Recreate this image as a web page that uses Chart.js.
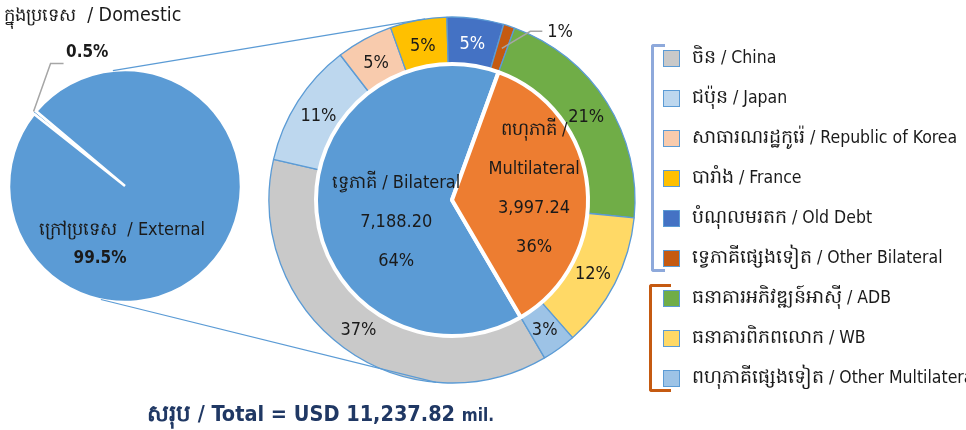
<!DOCTYPE html>
<html><head><meta charset="utf-8">
<script src="https://cdn.jsdelivr.net/npm/chart.js@4.4.1/dist/chart.umd.min.js"></script>
<style>
html,body{margin:0;padding:0;background:#fff;}
body{width:966px;height:430px;overflow:hidden;position:relative;font-family:"DejaVu Sans Condensed","DejaVu Sans","Noto Sans",sans-serif;color:#1a1a1a;}
canvas{position:absolute;display:block;}
#legend{position:absolute;left:0;top:0;}
.item{position:absolute;left:663px;height:20px;display:flex;align-items:center;white-space:nowrap;font-size:17.5px;}
.item .km{font-size:19px;}
.box{width:15px;height:15px;border:1.5px solid #5B9BD5;margin-right:12px;flex:none;}
.brk{position:absolute;border-style:solid;border-right:none;box-sizing:border-box;}
.txt{position:absolute;white-space:nowrap;}
#total{position:absolute;left:147px;top:399px;font-weight:bold;font-size:21.5px;color:#203864;white-space:nowrap;}
#total small{font-size:17px;}
</style>
</head><body>
<canvas id="sourceChart" width="250" height="248" style="left:0;top:62px"></canvas>
<canvas id="debtChart" width="380" height="380" style="left:262px;top:10px"></canvas>
<canvas id="overlay" width="966" height="430" style="left:0;top:0;pointer-events:none"></canvas>
<div id="legend"></div>
<div id="total"></div>
<script>
// ---------- DATA ----------
const sourceLabels = ['ក្នុងប្រទេស / Domestic', 'ក្រៅប្រទេស / External'];
const sourceShares = [0.5, 99.5];
const groupLabels = ['ទ្វេភាគី / Bilateral', 'ពហុភាគី / Multilateral'];
const groupAmounts = [7188.20, 3997.24];
const groupShares = [64, 36];
const lenderLabels = [
  'ចិន / China', 'ជប៉ុន / Japan', 'សាធារណរដ្ឋកូរ៉េ / Republic of Korea', 'បារាំង / France',
  'បំណុលមរតក / Old Debt', 'ទ្វេភាគីផ្សេងទៀត / Other Bilateral',
  'ធនាគារអភិវឌ្ឍន៍អាស៊ី / ADB', 'ធនាគារពិភពលោក / WB', 'ពហុភាគីផ្សេងទៀត / Other Multilateral'
];
const lenderShares = [37, 11, 5, 5, 5, 1, 21, 12, 3];
const lenderGroup = [0, 0, 0, 0, 0, 0, 1, 1, 1];
const totalLabel = 'សរុប / Total = USD';
const totalAmount = 11237.82;
const totalUnit = 'mil.';

// ---------- STYLE ----------
const FONT = '"DejaVu Sans Condensed","DejaVu Sans","Noto Sans",sans-serif';
const blue = '#5B9BD5';
const sourceColors = ['#5B9BD5', '#5B9BD5'];
const groupColors = ['#5B9BD5', '#ED7D31'];
const lenderColors = ['#C9C9C9', '#BDD7EE', '#F8CBAD', '#FFC000', '#4472C4', '#C55A11', '#70AD47', '#FFD966', '#9DC3E6'];
const lenderTextColors = ['#1a1a1a', '#1a1a1a', '#1a1a1a', '#1a1a1a', '#ffffff', '#1a1a1a', '#1a1a1a', '#1a1a1a', '#1a1a1a'];
const bracketColors = ['#8EA9DB', '#C55A11'];
const startAngle = 149.6;      // where the bilateral group begins (deg from top, clockwise)
const sourceRotation = 308.3;

const fmt = v => v.toLocaleString('en-US', {minimumFractionDigits: 2, maximumFractionDigits: 2});

// ---------- label plugin for main chart ----------
const debtLabels = {
  id: 'debtLabels',
  afterDatasetsDraw(chart) {
    const ctx = chart.ctx;
    ctx.save();
    ctx.textAlign = 'center';
    ctx.textBaseline = 'middle';
    const ring = chart.getDatasetMeta(0).data;
    ring.forEach((arc, i) => {
      const p = arc.getProps(['x', 'y', 'startAngle', 'endAngle', 'innerRadius', 'outerRadius'], true);
      const mid = (p.startAngle + p.endAngle) / 2;
      const txt = lenderShares[i] + '%';
      ctx.font = '18px ' + FONT;
      if (lenderShares[i] < 2) {
        const r0 = (p.innerRadius + p.outerRadius) / 2;
        const x0 = p.x + Math.cos(mid) * r0, y0 = p.y + Math.sin(mid) * r0;
        const a1 = mid + 6.7 * Math.PI / 180, r1 = p.outerRadius + 3;
        const x1 = p.x + Math.cos(a1) * r1, y1 = p.y + Math.sin(a1) * r1;
        ctx.strokeStyle = '#A6A6A6'; ctx.lineWidth = 1.5;
        ctx.beginPath(); ctx.moveTo(x0, y0); ctx.lineTo(x1, y1); ctx.lineTo(x1 + 12, y1); ctx.stroke();
        ctx.fillStyle = '#1a1a1a'; ctx.textAlign = 'left';
        ctx.fillText(txt, x1 + 17, y1 + 1);
        ctx.textAlign = 'center';
      } else {
        const r = (p.innerRadius + p.outerRadius) / 2 - 1;
        ctx.fillStyle = lenderTextColors[i];
        ctx.fillText(txt, p.x + Math.cos(mid) * r, p.y + Math.sin(mid) * r + 2);
      }
    });
    const inner = chart.getDatasetMeta(1).data;
    const rFrac = [0.44, 0.61], shift = [-16, -3], wrap = [false, true];
    inner.forEach((arc, i) => {
      const p = arc.getProps(['x', 'y', 'startAngle', 'endAngle', 'outerRadius'], true);
      const mid = (p.startAngle + p.endAngle) / 2 + shift[i] * Math.PI / 180;
      const r = p.outerRadius * rFrac[i];
      const cx = p.x + Math.cos(mid) * r, cy = p.y + Math.sin(mid) * r;
      const parts = groupLabels[i].split(' / ');
      const lines = wrap[i] ? [parts[0] + ' /', parts[1]] : [groupLabels[i]];
      lines.push(fmt(groupAmounts[i]), groupShares[i] + '%');
      const lh = 39;
      ctx.font = '18px ' + FONT;
      ctx.fillStyle = '#1a1a1a';
      lines.forEach((l, k) => ctx.fillText(l, cx, cy + 1 + (k - (lines.length - 1) / 2) * lh));
    });
    ctx.restore();
  }
};

// ---------- leader for the small source slice ----------
const sourceLabelsPlugin = {
  id: 'sourceLabels',
  afterDatasetsDraw(chart) {
    const ctx = chart.ctx;
    const arc = chart.getDatasetMeta(0).data[0];
    const p = arc.getProps(['x', 'y', 'startAngle', 'endAngle', 'outerRadius'], true);
    const mid = (p.startAngle + p.endAngle) / 2;
    const r = p.outerRadius + 2;
    const x0 = p.x + Math.cos(mid) * r, y0 = p.y + Math.sin(mid) * r;
    ctx.save();
    ctx.strokeStyle = '#A6A6A6'; ctx.lineWidth = 1.5;
    ctx.beginPath(); ctx.moveTo(x0, y0); ctx.lineTo(x0 + 17, y0 - 48); ctx.lineTo(x0 + 30, y0 - 48); ctx.stroke();
    ctx.restore();
  }
};

const sourceChart = new Chart(document.getElementById('sourceChart'), {
  type: 'pie',
  data: {
    labels: sourceLabels,
    datasets: [{
      data: sourceShares,
      backgroundColor: sourceColors,
      borderColor: '#ffffff',
      borderWidth: 2.5,
      offset: [5, 0],
      hoverOffset: 0
    }]
  },
  options: {
    responsive: false,
    animation: false,
    radius: 116,
    rotation: sourceRotation,
    plugins: {legend: {display: false}, tooltip: {enabled: false}}
  },
  plugins: [sourceLabelsPlugin]
});

const debtChart = new Chart(document.getElementById('debtChart'), {
  type: 'doughnut',
  data: {
    labels: lenderLabels,
    datasets: [
      {
        label: 'lenders',
        data: lenderShares,
        backgroundColor: lenderColors,
        borderColor: blue,
        borderWidth: 1.3,
        weight: 47,
        order: 1
      },
      {
        label: 'groups',
        data: groupShares,
        backgroundColor: groupColors,
        borderColor: '#ffffff',
        borderWidth: 4,
        weight: 136,
        order: 0
      }
    ]
  },
  options: {
    responsive: false,
    animation: false,
    cutout: 0,
    radius: 183,
    rotation: startAngle,
    plugins: {legend: {display: false}, tooltip: {enabled: false}}
  },
  plugins: [debtLabels]
});

// ---------- connectors between the two charts ----------
(function drawConnectors() {
  const ov = document.getElementById('overlay').getContext('2d');
  const a = sourceChart.getDatasetMeta(0).data[1];
  const b = debtChart.getDatasetMeta(0).data[0];
  const ca = {x: a.x + 0, y: a.y + 62, r: a.outerRadius};
  const cb = {x: b.x + 262, y: b.y + 10, r: b.outerRadius};
  const pt = (c, deg) => [c.x + Math.sin(deg * Math.PI / 180) * c.r, c.y - Math.cos(deg * Math.PI / 180) * c.r];
  ov.strokeStyle = blue; ov.lineWidth = 1.2;
  [[-6, -8.4], [192, 185]].forEach(([da, db]) => {
    const p1 = pt(ca, da), p2 = pt(cb, db);
    ov.beginPath(); ov.moveTo(p1[0], p1[1]); ov.lineTo(p2[0], p2[1]); ov.stroke();
  });
})();

// ---------- text around source pie ----------
(function sourceTexts() {
  const c = sourceChart.getDatasetMeta(0).data[1];
  const cx = c.x, cy = c.y + 62;
  const add = (html, x, y, css) => {
    const d = document.createElement('div');
    d.className = 'txt'; d.innerHTML = html;
    d.style.cssText += css;
    document.body.appendChild(d);
    d.style.left = (x - d.offsetWidth / 2) + 'px';
    d.style.top = (y - d.offsetHeight / 2) + 'px';
  };
  const dp = sourceLabels[0].split(' / ');
  const dom = document.createElement('div');
  dom.className = 'txt';
  dom.innerHTML = '<span style="font-size:18px">' + dp[0] + '</span>&nbsp; / ' + dp[1];
  dom.style.cssText += 'left:4px;top:3px;font-size:19.5px;';
  document.body.appendChild(dom);
  add(sourceShares[0] + '%', cx - 38, cy - 135, 'font-size:17px;font-weight:bold;');
  add(sourceLabels[1].replace(' / ', '&nbsp;&nbsp;/ '), cx - 3, cy + 44, 'font-size:18px;');
  add(sourceShares[1] + '%', cx - 25, cy + 71, 'font-size:17px;font-weight:bold;');
})();

// ---------- legend ----------
(function legend() {
  const lg = document.getElementById('legend');
  const top0 = 58, step = 40;
  lenderLabels.forEach((l, i) => {
    const parts = l.split(' / ');
    const it = document.createElement('div');
    it.className = 'item';
    it.style.top = (top0 + i * step - 10) + 'px';
    it.innerHTML = '<span class="box" style="background:' + lenderColors[i] + '"></span><span><span class="km">' + parts[0] + '</span> / ' + parts[1] + '</span>';
    lg.appendChild(it);
  });
  [0, 1].forEach(g => {
    const idx = lenderGroup.map((v, i) => v === g ? i : -1).filter(i => i >= 0);
    const y1 = top0 + idx[0] * step - 14, y2 = top0 + idx[idx.length - 1] * step + 14;
    const b = document.createElement('div');
    b.className = 'brk';
    b.style.cssText += 'left:' + (g ? 649 : 651) + 'px;top:' + y1 + 'px;width:' + (g ? 22 : 14) + 'px;height:' + (y2 - y1) + 'px;border-color:' + bracketColors[g] + ';border-width:3px 0 3px 3px;border-radius:3px 0 0 3px;';
    lg.appendChild(b);
  });
})();

const tp = totalLabel.split(' / ');
document.getElementById('total').innerHTML = '<span style="font-size:23px">' + tp[0] + '</span> / ' + tp[1] + ' ' + fmt(totalAmount) + ' <small>' + totalUnit + '</small>';
</script>
</body></html>
